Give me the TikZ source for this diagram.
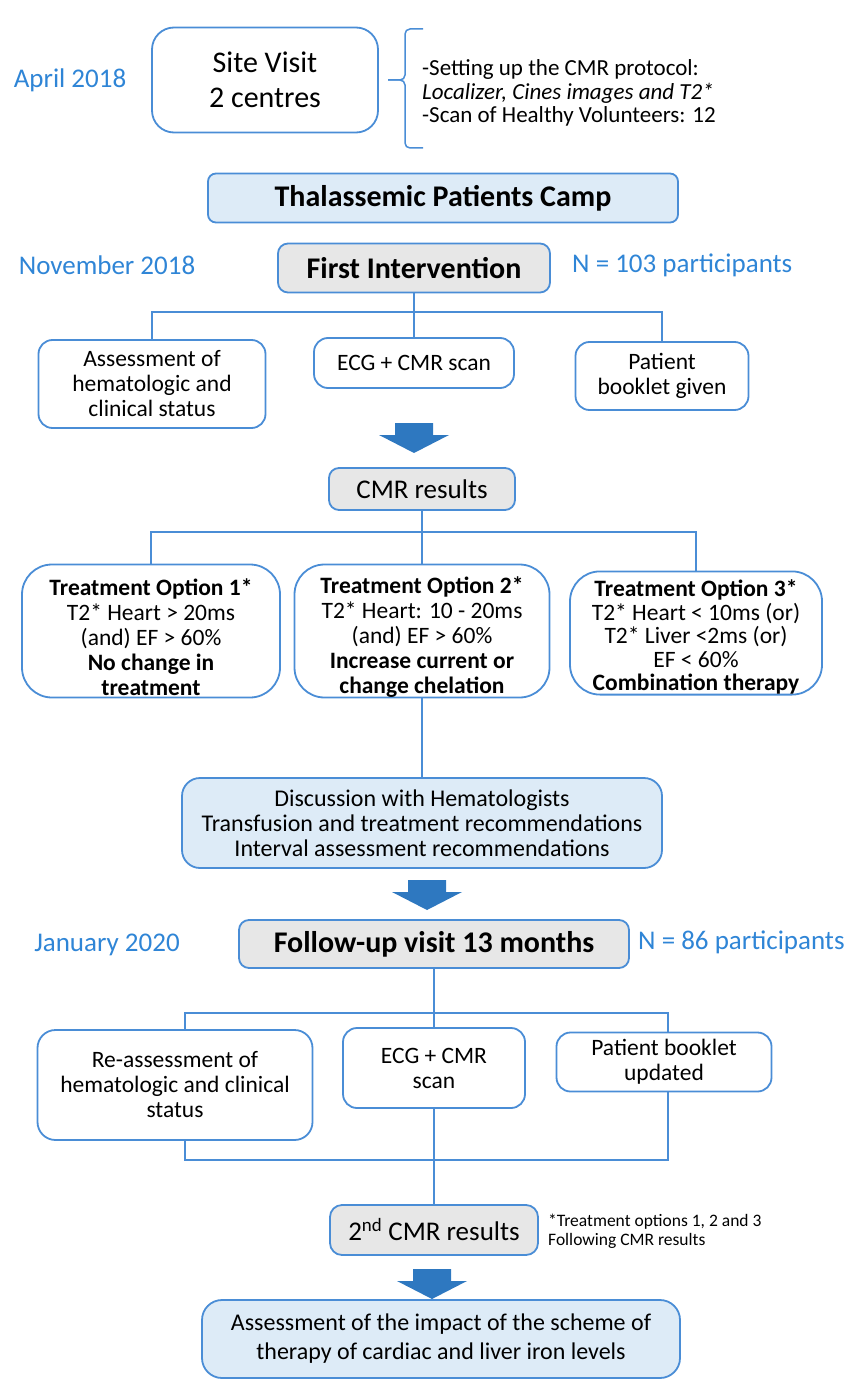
\documentclass[tikz,border=0pt]{standalone}
\usepackage{fontspec}
\setmainfont{Carlito}
\definecolor{boxblue}{HTML}{4A8DD6}
\definecolor{datblue}{HTML}{2F85D6}
\definecolor{arrblue}{HTML}{2E78C0}
\definecolor{lightfill}{HTML}{DDEBF7}
\definecolor{greyfill}{HTML}{E7E7E7}
\begin{document}
\begin{tikzpicture}[x=1pt,y=-1pt,
	box/.style={draw=boxblue,line width=1.8pt,rounded corners=14pt,fill=white,align=center,inner sep=0pt,font=\fontsize{23.5}{25}\selectfont},
	greybox/.style={box,fill=greyfill,font=\fontsize{27}{30}\selectfont},
	titlebox/.style={greybox,font=\bfseries\fontsize{30}{32}\selectfont,rounded corners=10pt},
	lightbox/.style={box,fill=lightfill},
	optbox/.style={box,rounded corners=30pt},
	date/.style={text=datblue,font=\fontsize{27}{30}\selectfont,inner sep=0pt},
	link/.style={draw=boxblue,line width=1.5pt},
	bigarrow/.pic={\fill[arrblue] (-19,0) -- (19,0) -- (19,12) -- (35,12) -- (0,30) -- (-35,12) -- (-19,12) -- cycle;}]
	\useasboundingbox (0,0) rectangle (847,1380);

	% site visit
	\node[date] (apr) at (70,80) {April 2018};
	\node[box,minimum width=226pt,minimum height=105pt,rounded corners=22pt,font=\fontsize{30}{35}\selectfont] (site) at (265,80) {Site Visit\\2 centres};
	\draw[link,rounded corners=5pt] (423,29) -- (405,29) -- (405,80) -- (388,80);
	\draw[link,rounded corners=5pt] (388,80) -- (405,80) -- (405,148) -- (423,148);
	\node[anchor=west,align=left,inner sep=0pt,font=\fontsize{23}{23.5}\selectfont] (setup) at (422,93) {-Setting up the CMR protocol:\\\textit{Localizer, Cines images and T2*}\\-Scan of Healthy Volunteers: 12};

	\node[lightbox,font=\bfseries\fontsize{30}{32}\selectfont,minimum width=470pt,minimum height=49pt,rounded corners=8pt] (camp) at (443,198) {Thalassemic Patients Camp};

	% first intervention
	\node[date] (nov) at (107,265) {November 2018};
	\node[titlebox,minimum width=272pt,minimum height=49pt] (first) at (414,268) {First Intervention};
	\node[date,anchor=west] (n103) at (572,265) {N = 103 participants};

	\node[box,minimum width=227pt,minimum height=88pt] (assess) at (152,384) {Assessment of\\hematologic and\\clinical status};
	\node[box,minimum width=200pt,minimum height=50pt] (ecg) at (414,363) {ECG + CMR scan};
	\node[box,minimum width=173pt,minimum height=68pt] (given) at (662,376) {Patient\\booklet given};

	\coordinate (fork1) at (414,312);
	\draw[link] (first) -- (ecg);
	\draw[link] (assess.north) |- (given.north |- fork1) -- (given.north);

	\pic (arr1) at (414,423) {bigarrow};

	% cmr results
	\node[greybox,minimum width=186pt,minimum height=42pt,rounded corners=10pt] (cmr) at (422,489) {CMR results};

	\node[optbox,minimum width=258pt,minimum height=133pt] (opt1) at (151,631) {\mbox{}\\[4pt]\textbf{Treatment Option 1*}\\T2* Heart > 20ms\\(and) EF > 60\%\\\textbf{No change in}\\\textbf{treatment}};
	\node[optbox,minimum width=255pt,minimum height=133pt] (opt2) at (422,631) {\mbox{}\\[4pt]\textbf{Treatment Option 2*}\\T2* Heart: 10 - 20ms\\(and) EF > 60\%\\\textbf{Increase current or}\\\textbf{change chelation}};
	\node[optbox,minimum width=252pt,minimum height=117pt,font=\fontsize{23.5}{23.5}\selectfont] (opt3) at (696,633) {\mbox{}\\[2pt]\textbf{Treatment Option 3*}\\T2* Heart < 10ms (or)\\T2* Liver <2ms (or)\\EF < 60\%\\\textbf{Combination therapy}};

	\coordinate (fork2) at (422,532);
	\draw[link] (cmr) -- (opt2);
	\draw[link] (opt1.north) |- (opt3.north |- fork2) -- (opt3.north);

	\node[lightbox,minimum width=480pt,minimum height=90pt,rounded corners=18pt,font=\fontsize{24}{25}\selectfont] (disc) at (422,823) {Discussion with Hematologists\\Transfusion and treatment recommendations\\Interval assessment recommendations};
	\draw[link] (opt2) -- (disc);

	\pic (arr2) at (427,880) {bigarrow};

	% follow-up
	\node[date] (jan) at (107,945) {January 2020};
	\node[titlebox,minimum width=390pt,minimum height=48pt] (follow) at (434,944) {Follow-up visit 13 months};
	\node[date,anchor=west] (n86) at (638,942) {N = 86 participants};

	\node[box,minimum width=275pt,minimum height=110pt,rounded corners=18pt] (reass) at (175,1085) {Re-assessment of\\hematologic and clinical\\status};
	\node[box,minimum width=182pt,minimum height=80pt] (ecgb) at (434,1068) {ECG + CMR\\scan};
	\node[box,minimum width=215pt,minimum height=59pt] (updated) at (664,1062) {Patient booklet\\updated};

	\coordinate (fl) at (185,1013);
	\coordinate (fr) at (668,1013);
	\coordinate (jl) at (185,1160);
	\coordinate (jr) at (668,1160);
	\draw[link] (follow) -- (ecgb);
	\draw[link] (fl |- reass.north) -- (fl) -- (fr) -- (fr |- updated.north);
	\draw[link] (fl |- reass.south) -- (jl) -- (jr) -- (fr |- updated.south);

	\node[greybox,minimum width=208pt,minimum height=50pt,rounded corners=12pt] (cmrb) at (434,1230) {2\textsuperscript{nd} CMR results};
	\draw[link] (ecgb) -- (cmrb);
	\node[anchor=west,align=left,inner sep=0pt,font=\fontsize{17.5}{19}\selectfont] (note) at (548,1231) {*Treatment options 1, 2 and 3\\Following CMR results};

	\pic (arr3) at (432,1269) {bigarrow};

	\node[lightbox,minimum width=478pt,minimum height=78pt,rounded corners=20pt,font=\fontsize{24}{29}\selectfont] (final) at (441,1339) {Assessment of the impact of the scheme of\\therapy of cardiac and liver iron levels};
\end{tikzpicture}
\end{document}
